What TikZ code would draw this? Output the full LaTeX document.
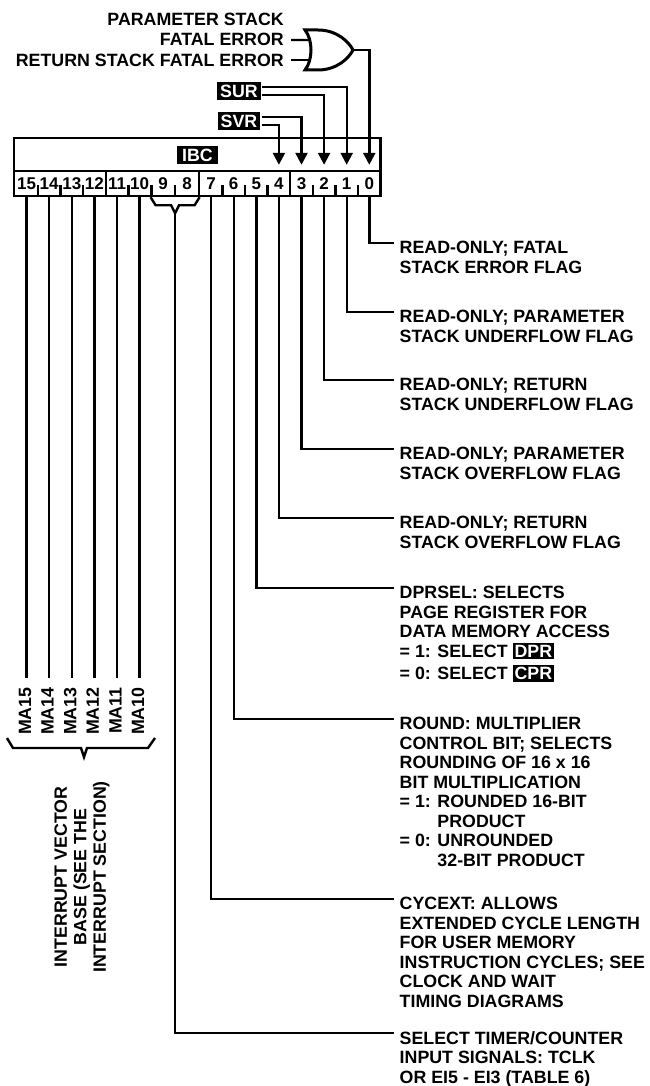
\documentclass[tikz,border=0pt]{standalone}
\usepackage{fontspec}
\setmainfont{Liberation Sans}
\usetikzlibrary{arrows.meta,calc}
\newcommand{\lblfont}{\fontsize{17.8}{19.5}\selectfont\bfseries}
\newcommand{\regbox}[1]{{\setlength{\fboxsep}{2pt}\colorbox{black}{\textcolor{white}{#1}}}}
\begin{document}
\begin{tikzpicture}[x=1pt,y=-1pt,line width=2.4pt,>={Triangle[length=12pt,width=12pt]},
  bitcell/.style={minimum width=22.6pt,minimum height=25pt,inner sep=0pt,font=\fontsize{17}{17}\selectfont\bfseries},
  blk/.style={fill=black,text=white,inner xsep=3pt,inner ysep=3pt,font=\lblfont},
  desc/.style={anchor=north west,align=left,inner xsep=5pt,inner ysep=0pt,font=\lblfont},
  addr/.style={rotate=90,anchor=base east,inner xsep=8pt,inner ysep=0pt,font=\lblfont}]
  \useasboundingbox (0,0) rectangle (649,1086);

  % register IBC
  \draw (14,138) rectangle (380.6,196);
  \draw (14,171) -- (380.6,171);
  \node[blk,inner xsep=5pt] (ibc) at (197.5,155) {IBC};
  \foreach \i/\x in {0/369.3,1/346.7,2/324.1,3/301.5,4/278.9,5/256.3,6/233.7,7/211.1,
                     8/187.1,9/163.1,10/139.6,11/117.0,12/94.4,13/71.8,14/49.2,15/26.6}
    \node[bitcell] (b\i) at (\x,183.5) {\i};
  \foreach \i/\j in {0/1,1/2,2/3,4/5,5/6,6/7,8/9,9/10,10/11,12/13,13/14,14/15}
    \draw ($(b\i.south)!0.5!(b\j.south)$) -- ++(0,-12);
  \foreach \i/\j in {3/4,7/8,11/12}
    \draw ($(b\i.south)!0.5!(b\j.south)$) -- ($(b\i.north)!0.5!(b\j.north)$);

  % stack error gate
  \node[anchor=south east,align=right,inner xsep=6pt,inner ysep=0pt,font=\lblfont] (pse) at (291,46.4) {PARAMETER STACK\\FATAL ERROR};
  \node[anchor=east,inner xsep=6pt,inner ysep=0pt,font=\lblfont] (rse) at (291,60) {RETURN STACK FATAL ERROR};
  \coordinate (gin1) at (310,40);
  \coordinate (gin2) at (310,60);
  \coordinate (gout) at (353,50);
  \draw ([yshift=6.35pt]pse.south east) -- (gin1);
  \draw (rse.east) -- (gin2);
  \draw[line width=3pt,fill=white] (305,30) -- (318,30) .. controls (337,30) and (349,42) .. (gout)
    .. controls (349,58) and (337,70) .. (318,70) -- (305,70) .. controls (313,60) and (313,40) .. cycle;

  \node[blk] (sur) at (239,91) {SUR};
  \node[blk] (svr) at (239,121) {SVR};
  \draw[->] (gout) -| ([yshift=5pt]b0.north);
  \draw[->] ([yshift=4pt]sur.east) -| ([yshift=5pt]b1.north);
  \draw[->] ([yshift=-4pt]sur.east) -| ([yshift=5pt]b2.north);
  \draw[->] ([yshift=4pt]svr.east) -| ([yshift=5pt]b3.north);
  \draw[->] ([yshift=-4pt]svr.east) -| ([yshift=5pt]b4.north);

  % bit descriptions
  \node[desc] (l0) at (393.5,240) {READ-ONLY; FATAL\\STACK ERROR FLAG};
  \node[desc] (l1) at (393.5,309) {READ-ONLY; PARAMETER\\STACK UNDERFLOW FLAG};
  \node[desc] (l2) at (393.5,377) {READ-ONLY; RETURN\\STACK UNDERFLOW FLAG};
  \node[desc] (l3) at (393.5,446) {READ-ONLY; PARAMETER\\STACK OVERFLOW FLAG};
  \node[desc] (l4) at (393.5,515) {READ-ONLY; RETURN\\STACK OVERFLOW FLAG};
  \node[desc] (l5) at (393.5,585) {DPRSEL: SELECTS\\PAGE REGISTER FOR\\DATA MEMORY ACCESS\\
    = 1: SELECT \regbox{DPR}\\[3pt]= 0: SELECT \regbox{CPR}};
  \node[desc] (l6) at (393.5,716) {ROUND: MULTIPLIER\\CONTROL BIT; SELECTS\\ROUNDING OF 16 x 16\\BIT MULTIPLICATION\\
    = 1: ROUNDED 16-BIT\\\hphantom{= 1: }PRODUCT\\= 0: UNROUNDED\\\hphantom{= 0: }32-BIT PRODUCT};
  \node[desc] (l7) at (393.5,896) {CYCEXT: ALLOWS\\EXTENDED CYCLE LENGTH\\FOR USER MEMORY\\
    INSTRUCTION CYCLES; SEE\\CLOCK AND WAIT\\TIMING DIAGRAMS};
  \node[desc] (l8) at (393.5,1030) {SELECT TIMER/COUNTER\\INPUT SIGNALS: TCLK\\OR EI5 - EI3 (TABLE 6)};
  \foreach \i in {0,...,7}
    \draw (b\i.south) |- ([yshift=-3pt]l\i.north west);

  % bits 9 and 8
  \draw (b9.south west) -- ++(5,8) -- ($(b9.south)!0.5!(b8.south)+(-4,8)$) -- ++(4,8) coordinate (tsel)
    -- ++(4,-8) -- ($(b8.south east)+(-5,8)$) -- (b8.south east);
  \draw (tsel) |- ([yshift=-3pt]l8.north west);

  % interrupt vector base
  \foreach \i in {10,...,15} {
    \node[addr] (ma\i) at ($(b\i.south)+(4.5,481)$) {MA\i};
    \draw (b\i.south) -- (b\i.south |- ma\i.east);
  }
  \draw (7,738) -- (13,748) -- (81,748) -- (84,757) -- (87,748) -- (148,748) -- (155,738);
  \node[rotate=90,align=center,font=\lblfont] (ivb) at (82,877) {INTERRUPT VECTOR\\BASE (SEE THE\\INTERRUPT SECTION)};
\end{tikzpicture}
\end{document}
